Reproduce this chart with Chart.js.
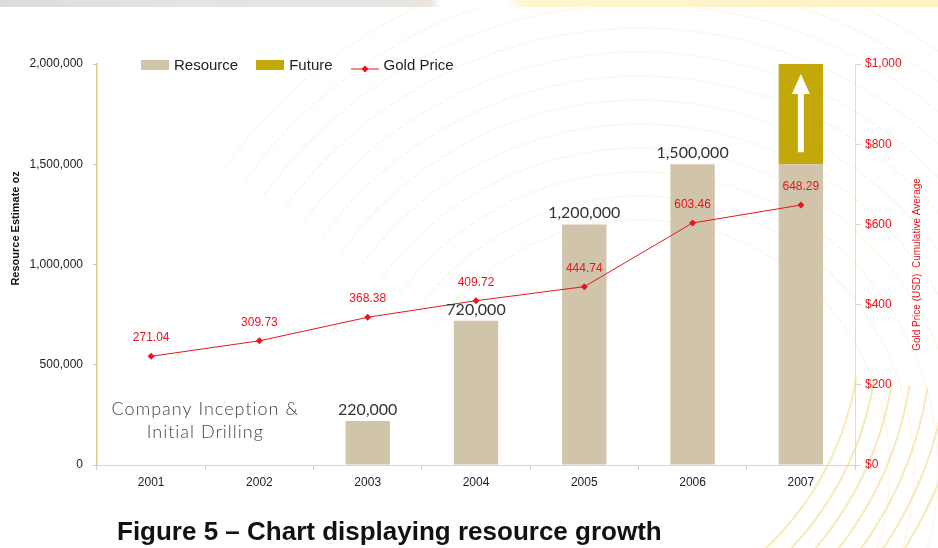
<!DOCTYPE html>
<html>
<head>
<meta charset="utf-8">
<script src="https://cdn.jsdelivr.net/npm/chart.js@4.4.1/dist/chart.umd.min.js"></script>
<style>
  html, body { margin: 0; padding: 0; background: #fff; }
  #wrap { position: relative; width: 938px; height: 548px; overflow: hidden; }
  #bg, #chartBox { position: absolute; left: 0; top: 0; width: 938px; height: 548px; }
  #topband { position: absolute; left: 0; top: 0; width: 938px; height: 7px;
    background: linear-gradient(90deg, #dcdcdc 0%, #e4e4e2 20%, #e2e6e2 40%, #ece6de 46%, #fff 47%, #fff 54%, #fdf6cf 56%, #fdf3c4 100%); }
  #legend { position: absolute; left: 141px; top: 56px; display: flex; font: 15px "Liberation Sans", Arial, sans-serif; color: #222; }
  #legend .item { display: flex; align-items: center; margin-right: 18px; }
  #legend .sw { width: 28px; height: 10px; margin-right: 5px; }
  #legend .ln { width: 28px; height: 10px; margin-right: 5px; position: relative; }
  #caption { position: absolute; left: 117px; top: 518px; font: bold 26px "Liberation Sans", Arial, sans-serif; color: #111; line-height: 1; white-space: nowrap; }
</style>
</head>
<body>
<div id="wrap">
  <canvas id="bg" width="938" height="548"></canvas>
  <div id="topband"></div>
  <div id="chartBox"><canvas id="grafico"></canvas></div>
  <div id="legend"></div>
  <div id="caption">Figure 5 – Chart displaying resource growth</div>
</div>
<script>
// Dados do gráfico
const anos = ['2001', '2002', '2003', '2004', '2005', '2006', '2007'];
const recurso = [0, 0, 220000, 720000, 1200000, 1500000, 1500000];
const futuro = [null, null, null, null, null, null, 500000];
const precoOuro = [271.04, 309.73, 368.38, 409.72, 444.74, 603.46, 648.29];
const ticksRecurso = [0, 500000, 1000000, 1500000, 2000000];
const ticksPreco = [0, 200, 400, 600, 800, 1000];
const notaInicio = ['Company Inception &', 'Initial Drilling'];

const corRecurso = '#d0c5ab';
const corFuturo = '#c3a80a';
const corOuro = '#e8141e';

// Fundo decorativo (arcos)
(function desenharFundo() {
    const c = document.getElementById('bg').getContext('2d');
    c.lineWidth = 2;
    for (let r = 250; r <= 520; r += 24) {
        c.strokeStyle = 'rgba(236, 228, 160, 0.18)';
        c.beginPath();
        c.arc(640, 470, r, Math.PI * 1.2, Math.PI * 2.35);
        c.stroke();
    }
    for (let r = 300; r <= 420; r += 18) {
        c.strokeStyle = 'rgba(238, 214, 120, 0.5)';
        c.beginPath();
        c.arc(560, 330, r, Math.PI * 0.05, Math.PI * 0.3);
        c.stroke();
    }
})();

// Rótulos, títulos dos eixos, seta e nota
const extras = {
    id: 'extras',
    afterDatasetsDraw(chart) {
        const ctx = chart.ctx;
        const area = chart.chartArea;
        ctx.save();

        // rótulos das barras
        const barras = chart.getDatasetMeta(0).data;
        ctx.font = '16px Lato, "DejaVu Sans", sans-serif';
        ctx.fillStyle = '#333';
        ctx.textAlign = 'center';
        ctx.textBaseline = 'alphabetic';
        recurso.forEach((v, i) => {
            if (!v || futuro[i]) return;
            ctx.fillText(v.toLocaleString('en-US'), barras[i].x, barras[i].y - 6);
        });

        // rótulos do preço do ouro
        const pontos = chart.getDatasetMeta(2).data;
        ctx.font = '12px "Liberation Sans", Arial, sans-serif';
        ctx.fillStyle = corOuro;
        precoOuro.forEach((v, i) => {
            ctx.fillText(v.toFixed(2), pontos[i].x, pontos[i].y - 15);
        });

        // seta branca na barra futura
        const fut = chart.getDatasetMeta(1).data;
        futuro.forEach((v, i) => {
            if (!v) return;
            const b = fut[i];
            const topo = b.y + 10, base = b.base - 12;
            ctx.fillStyle = '#fff';
            ctx.fillRect(b.x - 3, topo + 18, 6, base - topo - 18);
            ctx.beginPath();
            ctx.moveTo(b.x, topo);
            ctx.lineTo(b.x + 9, topo + 20);
            ctx.lineTo(b.x - 9, topo + 20);
            ctx.closePath();
            ctx.fill();
        });

        // nota "Company Inception"
        const xs = chart.scales.x, ys = chart.scales.y;
        ctx.font = '300 18px Lato, "DejaVu Sans", sans-serif';
        ctx.letterSpacing = '1px';
        ctx.fillStyle = '#444';
        ctx.textBaseline = 'middle';
        ctx.fillText(notaInicio[0], xs.getPixelForValue(0.5), ys.getPixelForValue(278000));
        ctx.fillText(notaInicio[1], xs.getPixelForValue(0.5), ys.getPixelForValue(165000));
        ctx.letterSpacing = '0px';

        // títulos dos eixos
        ctx.save();
        ctx.translate(16, area.top + (area.bottom - area.top) * 0.41);
        ctx.rotate(-Math.PI / 2);
        ctx.font = 'bold 11px "Liberation Sans", Arial, sans-serif';
        ctx.fillStyle = '#111';
        ctx.fillText('Resource Estimate oz', 0, 0);
        ctx.restore();

        ctx.save();
        ctx.translate(chart.scales.y1.right - 21, (area.top + area.bottom) / 2);
        ctx.rotate(-Math.PI / 2);
        ctx.font = '10px "Liberation Sans", Arial, sans-serif';
        ctx.fillStyle = corOuro;
        ctx.fillText('Gold Price (USD)  Cumulative Average', 0, 0);
        ctx.restore();

        ctx.restore();
    }
};

const config = {
    type: 'bar',
    data: {
        labels: anos,
        datasets: [{
            label: 'Resource',
            data: recurso,
            backgroundColor: corRecurso,
            stack: 's',
            order: 2,
            categoryPercentage: 1,
            barPercentage: 0.41
        }, {
            label: 'Future',
            data: futuro,
            backgroundColor: corFuturo,
            stack: 's',
            order: 2,
            categoryPercentage: 1,
            barPercentage: 0.41
        }, {
            type: 'line',
            label: 'Gold Price',
            data: precoOuro,
            yAxisID: 'y1',
            borderColor: corOuro,
            backgroundColor: corOuro,
            borderWidth: 1,
            pointStyle: 'rectRot',
            pointRadius: 3.5,
            pointBorderWidth: 0,
            tension: 0,
            order: 0
        }]
    },
    options: {
        responsive: false,
        animation: false,
        layout: { padding: { top: 64, left: 0, right: 0, bottom: 0 } },
        plugins: {
            legend: { display: false },
            tooltip: { enabled: false }
        },
        scales: {
            x: {
                stacked: true,
                afterFit: s => { s.height = 83; },
                border: { color: '#d6d6d0', width: 1 },
                grid: { offset: true, drawOnChartArea: false, tickLength: 5, color: '#cfcfca' },
                ticks: { color: '#222', padding: 5, font: { family: '"Liberation Sans", Arial', size: 12 } }
            },
            y: {
                stacked: true,
                min: 0,
                max: 2000000,
                afterFit: s => { s.width = 97; },
                afterBuildTicks: s => { s.ticks = ticksRecurso.map(v => ({ value: v })); },
                border: { color: '#d6cb84', width: 1.5 },
                grid: { drawOnChartArea: false, tickLength: 4, color: '#d6cb84' },
                ticks: {
                    color: '#222',
                    padding: 10,
                    font: { family: '"Liberation Sans", Arial', size: 12 },
                    callback: v => v.toLocaleString('en-US')
                }
            },
            y1: {
                position: 'right',
                min: 0,
                max: 1000,
                afterFit: s => { s.width = 83; },
                afterBuildTicks: s => { s.ticks = ticksPreco.map(v => ({ value: v })); },
                border: { color: '#dcdcd4', width: 1 },
                grid: { drawOnChartArea: false, tickLength: 6, color: '#d8d8d0' },
                ticks: {
                    color: corOuro,
                    padding: 4,
                    font: { family: '"Liberation Sans", Arial', size: 12 },
                    callback: v => '$' + v.toLocaleString('en-US')
                }
            }
        }
    },
    plugins: [extras]
};

const cv = document.getElementById('grafico');
cv.width = 938;
cv.height = 548;
const grafico = new Chart(cv.getContext('2d'), config);

// Legenda em HTML
const legenda = document.getElementById('legend');
grafico.data.datasets.forEach(ds => {
    const item = document.createElement('div');
    item.className = 'item';
    if (ds.type === 'line') {
        item.innerHTML = '<span class="ln"><svg width="28" height="10"><line x1="0" y1="5" x2="28" y2="5" stroke="' + ds.borderColor +
            '" stroke-width="1"/><polygon points="14,1.5 17.5,5 14,8.5 10.5,5" fill="' + ds.borderColor + '"/></svg></span>' + ds.label;
    } else {
        item.innerHTML = '<span class="sw" style="background:' + ds.backgroundColor + '"></span>' + ds.label;
    }
    legenda.appendChild(item);
});
</script>
</body>
</html>
